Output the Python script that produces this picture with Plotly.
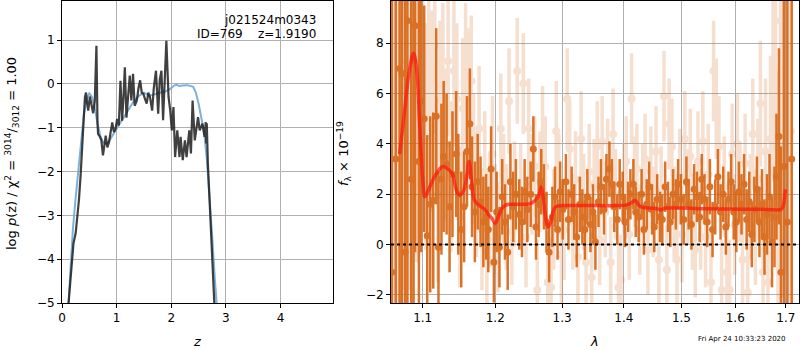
import math
import plotly.graph_objects as go

# ---------------- left panel: p(z) ----------------
pz_z = [0.12, 0.15, 0.18, 0.19, 0.21, 0.25, 0.29, 0.31, 0.34, 0.36,
        0.39, 0.42, 0.44, 0.46, 0.48, 0.51, 0.54, 0.57, 0.60, 0.63,
        0.65, 0.66, 0.69, 0.72, 0.75, 0.78, 0.80, 0.83, 0.86, 0.89,
        0.92, 0.95, 0.98, 1.01, 1.04, 1.07, 1.10, 1.125, 1.15, 1.18,
        1.21, 1.24, 1.27, 1.30, 1.33, 1.37, 1.40, 1.43, 1.46, 1.49,
        1.52, 1.55, 1.58, 1.61, 1.65, 1.68, 1.72, 1.76, 1.79, 1.82,
        1.85, 1.88, 1.91, 1.95, 1.98, 2.01, 2.04, 2.07, 2.11, 2.15,
        2.17, 2.21, 2.25, 2.28, 2.33, 2.36, 2.39, 2.43, 2.46, 2.49,
        2.52, 2.57, 2.61, 2.63, 2.64, 2.65, 2.67, 2.74, 2.75, 2.80, 2.81]
pz_logp = [-5.0, -4.55, -4.17, -3.86, -3.64, -3.41, -2.95, -2.65, -2.1, -1.74,
           -0.98, -0.3, -0.2, -0.45, -0.61, -0.29, -0.5, -0.67, -0.4, 0.87,
           -0.9, -1.14, -1.2, -1.29, -1.63, -1.3, -1.18, -1.45, -1.33, -1.1,
           -0.88, -1.1, -1.03, -0.8, -0.95, 0.07, -0.84, -0.3, 0.38, -0.77,
           -0.2, 0.19, -0.38, 0.23, -0.5, -0.38, -0.1, 0.08, -0.2, -0.23,
           -0.35, -0.45, -0.2, -0.3, -0.61, -0.1, 0.3, -0.68, 0.1, 0.3,
           -0.83, 0.0, 0.98, -0.3, -0.6, -1.06, -0.53, -1.67, -1.06, -1.67,
           -1.21, -1.74, -1.29, -1.67, -1.06, -1.59, -0.38, -1.29, -1.06, -0.76,
           -1.06, -0.91, -1.21, -0.87, -1.36, -0.9, -1.82, -3.49, -3.94, -5.0, -5.6]

chi_z = [0.12, 0.15, 0.2, 0.25, 0.3, 0.35, 0.4, 0.45, 0.5, 0.55,
         0.6, 0.65, 0.7, 0.75, 0.8, 0.85, 0.9, 0.95, 1.0, 1.1,
         1.2, 1.3, 1.4, 1.5, 1.6, 1.7, 1.8, 1.9, 2.0, 2.05,
         2.1, 2.15, 2.2, 2.3, 2.4, 2.45, 2.5, 2.55, 2.6, 2.65,
         2.7, 2.75, 2.8, 2.83]
chi_val = [-5.0, -4.3, -3.3, -2.6, -1.95, -1.3, -0.7, -0.35, -0.22, -0.3,
           -0.55, -0.9, -1.18, -1.33, -1.38, -1.33, -1.23, -1.13, -1.03, -0.83,
           -0.6, -0.42, -0.28, -0.2, -0.27, -0.24, -0.2, -0.17, -0.1, -0.04,
           -0.02, -0.05, -0.04, -0.03, -0.07, -0.2, -0.45, -0.75, -1.1, -1.7,
           -2.5, -3.5, -4.5, -5.0]

# ---------------- right panel: spectrum ----------------
dark_wave = [1.060, 1.065, 1.070, 1.073, 1.077, 1.080, 1.085, 1.088, 1.090, 1.095,
             1.098, 1.102, 1.106, 1.110, 1.114, 1.118, 1.121, 1.125, 1.128, 1.132,
             1.136, 1.140, 1.145, 1.148, 1.152, 1.156, 1.160, 1.164, 1.167, 1.171,
             1.175, 1.179, 1.183, 1.187, 1.190, 1.194, 1.198, 1.202, 1.206, 1.210,
             1.214, 1.218, 1.222, 1.226, 1.230, 1.235, 1.239, 1.243, 1.247, 1.252,
             1.256, 1.260, 1.264, 1.268, 1.272, 1.276, 1.280, 1.285, 1.289, 1.293,
             1.297, 1.301, 1.306, 1.310, 1.315, 1.319, 1.323, 1.328, 1.332, 1.336,
             1.340, 1.345, 1.349, 1.353, 1.358, 1.362, 1.367, 1.371, 1.376, 1.380,
             1.384, 1.389, 1.393, 1.398, 1.402, 1.407, 1.411, 1.416, 1.420, 1.425,
             1.430, 1.434, 1.439, 1.443, 1.448, 1.452, 1.457, 1.462, 1.466, 1.471,
             1.476, 1.480, 1.485, 1.490, 1.494, 1.499, 1.504, 1.509, 1.513, 1.518,
             1.523, 1.528, 1.533, 1.537, 1.542, 1.547, 1.552, 1.557, 1.562, 1.567,
             1.572, 1.577, 1.582, 1.587, 1.592, 1.597, 1.602, 1.607, 1.612, 1.617,
             1.622, 1.627, 1.632, 1.637, 1.642, 1.647, 1.652, 1.657, 1.662, 1.667,
             1.672, 1.677, 1.681, 1.686, 1.690, 1.696, 1.703, 1.712]
dark_flux = [-1.1, 3.4, 7.0, 6.8, -0.3, 8.9, 2.6, 7.3, 8.7, 3.3,
             5.7, 5.0, 0.35, 1.6, 1.75, 5.1, -0.1, 2.6, 3.5, 3.2,
             1.5, 2.8, 3.6, 2.0, 0.6, 1.5, 3.7, 4.8, 2.3, 1.3,
             2.5, 1.7, 0.9, 1.1, 0.6, 3.0, -0.7, 1.3, -0.1, 1.9,
             0.9, -0.3, 2.5, 1.5, 2.0, 1.2, 0.9, 2.1, 1.4, 2.0,
             3.8, 0.7, 1.6, 2.5, 1.9, 0.9, -0.3, 1.1, 1.9, 0.6,
             2.1, 1.4, 2.5, 1.0, 2.0, 1.3, 0.3, 1.6, 1.1, 0.6,
             1.9, 0.8, 1.3, 0.1, 1.7, 2.3, 1.4, 2.6, 3.0, 2.4,
             1.5, 1.0, 2.4, 1.9, 0.9, 1.5, 2.0, 2.4, 1.3, 1.1,
             2.0, 0.6, 1.6, 2.3, 1.4, 0.7, 1.8, 1.1, 1.0, 2.3,
             1.5, 0.9, 2.0, 1.6, 2.4, 1.8, 1.0, 2.5, 1.6, 0.8,
             2.2, 1.9, 1.1, 2.6, 1.8, 0.9, 2.3, 0.6, 1.5, 2.7,
             1.3, 2.0, 0.7, 1.8, 2.5, 1.3, 0.9, 2.1, 1.6, 2.4,
             1.0, 1.7, 0.4, 1.4, 2.2, 0.9, 1.6, 0.3, 1.2, 1.9,
             0.1, 1.1, 2.7, 4.3, -1.1, 3.1, 0.9, 3.4]
dark_err = [12, 12, 12, 12, 12, 12, 10, 10, 9, 8,
            6, 4.5, 4, 3.5, 3.5, 3.5, 3, 3, 3, 2.8,
            2.6, 2.5, 2.5, 2.4, 2.3, 2.2, 2.2, 2.2, 2.0, 2.0,
            1.9, 1.8, 1.8, 1.7, 1.7, 1.7, 1.6, 1.6, 1.6, 1.5,
            1.5, 1.5, 1.5, 1.4, 1.4, 1.4, 1.4, 1.3, 1.3, 1.3,
            1.3, 1.3, 1.3, 1.3, 1.3, 1.2, 1.2, 1.2, 1.2, 1.2,
            1.2, 1.2, 1.1, 1.2, 1.1, 1.1, 1.2, 1.1, 1.1, 1.2,
            1.1, 1.1, 1.1, 1.1, 1.0, 1.1, 1.0, 1.0, 1.1, 1.0,
            1.0, 1.0, 1.0, 1.0, 1.0, 1.0, 1.0, 1.0, 1.0, 1.0,
            1.0, 1.0, 1.0, 1.0, 1.0, 1.0, 1.0, 1.0, 1.0, 1.0,
            1.0, 1.0, 1.0, 1.0, 1.0, 1.0, 1.0, 1.0, 1.0, 1.0,
            1.0, 1.0, 1.0, 1.0, 1.0, 1.0, 1.1, 1.1, 1.1, 1.1,
            1.1, 1.1, 1.1, 1.1, 1.1, 1.1, 1.2, 1.2, 1.2, 1.2,
            1.2, 1.2, 1.3, 1.3, 1.3, 1.4, 1.4, 1.5, 1.6, 1.7,
            1.8, 2.0, 2.5, 3.5, 5, 10, 10, 10]

light_wave = [1.062, 1.067, 1.071, 1.075, 1.079, 1.083, 1.087, 1.092, 1.096, 1.100,
              1.104, 1.108, 1.112, 1.116, 1.120, 1.123, 1.127, 1.130, 1.134, 1.138,
              1.142, 1.146, 1.150, 1.154, 1.158, 1.162, 1.166, 1.169, 1.173, 1.177,
              1.181, 1.185, 1.188, 1.192, 1.196, 1.200, 1.204, 1.208, 1.212, 1.216,
              1.220, 1.224, 1.228, 1.232, 1.237, 1.241, 1.245, 1.249, 1.254, 1.258,
              1.262, 1.266, 1.270, 1.274, 1.278, 1.283, 1.287, 1.291, 1.295, 1.299,
              1.303, 1.308, 1.312, 1.317, 1.321, 1.325, 1.330, 1.334, 1.338, 1.343,
              1.347, 1.351, 1.356, 1.360, 1.364, 1.369, 1.373, 1.378, 1.382, 1.386,
              1.391, 1.395, 1.400, 1.404, 1.409, 1.413, 1.418, 1.422, 1.427, 1.432,
              1.436, 1.441, 1.446, 1.450, 1.455, 1.460, 1.464, 1.469, 1.474, 1.478,
              1.483, 1.487, 1.492, 1.497, 1.501, 1.506, 1.511, 1.516, 1.520, 1.525,
              1.530, 1.535, 1.539, 1.544, 1.549, 1.554, 1.559, 1.564, 1.569, 1.574,
              1.579, 1.584, 1.589, 1.594, 1.599, 1.604, 1.609, 1.614, 1.619, 1.624,
              1.629, 1.634, 1.639, 1.644, 1.649, 1.654, 1.659, 1.664, 1.669, 1.674,
              1.679, 1.684, 1.689, 1.694, 1.699, 1.705, 1.710]
light_flux = [9.6, 5.5, 8.5, 9.2, 1.6, 7.2, 4.0, 6.3, 9.5, 7.2,
              4.3, 8.5, 5.3, 7.9, 2.0, 5.7, 6.4, 4.0, 7.3, 2.7,
              6.9, 5.8, 1.1, 5.4, 6.8, 5.9, 6.5, 3.4, 2.0, 4.6,
              0.6, 2.9, -0.3, 1.4, 3.6, 1.0, 0.3, 4.6, 2.2, 1.1,
              5.7, 0.5, 2.0, 6.9, 1.9, 6.4, 0.3, 4.6, 2.4, 3.1,
              -1.8, 2.5, 4.3, 3.1, -1.5, -1.7, 1.0, 4.5, 2.4, -0.4,
              0.6, 5.8, 3.8, 0.9, 2.6, -0.5, 4.2, 1.7, -0.7, 2.9,
              -1.3, 2.4, 3.9, 0.2, 4.1, 1.3, 3.2, -0.7, 4.4, 2.0,
              -1.7, -1.4, 2.2, 3.3, 0.4, 5.8, 2.5, 3.0, 0.6, 2.2,
              3.4, -0.2, 2.9, 1.3, 3.7, -0.6, 2.1, 5.9, -1.0, 4.8,
              3.9, 1.2, -0.6, 2.7, 0.4, 4.2, 1.9, 3.5, 0.9, -0.2,
              3.3, 1.0, 4.1, 0.3, 2.8, -1.5, 6.9, 5.4, 3.9, -1.8,
              2.3, -1.1, -1.8, 3.6, 0.8, 4.0, 2.1, -0.6, 3.2, -1.9,
              1.5, 4.4, 0.7, 2.6, 5.6, -1.1, 3.7, -1.5, 4.2, 6.1,
              6.0, 1.9, 8.9, 5.9, 8.8, 2.0, 4.5]
light_err = [12, 12, 12, 11, 10, 9, 8, 7, 6, 5,
             4.5, 4, 4, 3.5, 3.5, 3.2, 3.2, 3, 3, 3,
             3, 3, 2.8, 2.8, 2.8, 2.7, 2.6, 2.6, 2.5, 2.5,
             2.4, 2.4, 2.3, 2.3, 2.3, 2.2, 2.2, 2.2, 2.2, 2.1,
             2.1, 2.1, 2.1, 2.1, 2.1, 2.0, 2.0, 2.0, 2.0, 2.0,
             2.0, 2.0, 2.0, 2.0, 2.0, 2.0, 2.0, 2.0, 2.0, 2.0,
             2.0, 2.0, 1.9, 1.9, 1.9, 1.9, 1.9, 1.9, 1.9, 1.9,
             1.8, 1.8, 1.8, 1.8, 1.8, 1.8, 1.8, 1.8, 1.8, 1.8,
             1.8, 1.8, 1.8, 1.8, 1.8, 1.8, 1.8, 1.8, 1.8, 1.8,
             1.8, 1.8, 1.8, 1.8, 1.8, 1.8, 1.8, 1.8, 1.8, 1.8,
             1.9, 1.9, 1.9, 1.9, 1.9, 1.9, 1.9, 1.9, 1.9, 1.9,
             2.0, 2.0, 2.0, 2.0, 2.0, 2.0, 2.0, 2.0, 2.0, 2.0,
             2.0, 2.0, 2.0, 2.0, 2.0, 2.0, 2.0, 2.0, 2.0, 2.1,
             2.1, 2.2, 2.3, 2.4, 2.5, 2.7, 2.9, 3.1, 3.3, 3.6,
             4, 5, 6, 8, 10, 12, 12]

model_wave = [1.070, 1.076, 1.082, 1.088, 1.092, 1.096, 1.100, 1.103, 1.108, 1.114,
              1.120, 1.127, 1.134, 1.140, 1.144, 1.148, 1.152, 1.156, 1.160, 1.163,
              1.166, 1.170, 1.175, 1.180, 1.185, 1.190, 1.195, 1.200, 1.205, 1.210,
              1.214, 1.220, 1.235, 1.250, 1.256, 1.262, 1.266, 1.268, 1.271, 1.274,
              1.278, 1.282, 1.286, 1.290, 1.300, 1.330, 1.360, 1.390, 1.405, 1.412,
              1.418, 1.421, 1.426, 1.432, 1.445, 1.458, 1.465, 1.470, 1.480, 1.500,
              1.540, 1.580, 1.620, 1.660, 1.690, 1.694, 1.697, 1.699]
model_flux = [3.6, 5.2, 6.8, 7.6, 7.0, 4.8, 2.6, 1.9, 2.2, 2.6,
              2.9, 3.1, 3.0, 2.8, 2.3, 2.0, 2.0, 2.2, 2.8, 3.3,
              2.6, 1.8, 1.6, 1.5, 1.4, 1.2, 1.05, 0.85, 1.15, 1.45,
              1.55, 1.6, 1.6, 1.62, 1.7, 1.85, 2.1, 2.3, 1.9, 1.2,
              0.7, 0.85, 1.3, 1.5, 1.55, 1.55, 1.55, 1.55, 1.58, 1.65,
              1.75, 1.72, 1.55, 1.48, 1.45, 1.42, 1.38, 1.45, 1.45, 1.45,
              1.43, 1.42, 1.41, 1.4, 1.4, 1.5, 1.8, 2.2]

x_ticks_right = [1.1, 1.2, 1.3, 1.4, 1.5, 1.6, 1.7]
x_labels_right = ["1.1", "1.2", "1.3", "1.4", "1.5", "1.6", "1.7"]
y_ticks_right = [-2, 0, 2, 4, 6, 8]
x_ticks_left = [0, 1, 2, 3, 4]
y_ticks_left = [-5, -4, -3, -2, -1, 0, 1]

DARK = "rgb(214,100,18)"
GRID = "#b0b0b0"
FONT = "DejaVu Sans"

fig = go.Figure()

# left panel traces
fig.add_trace(go.Scatter(x=chi_z, y=chi_val, mode="lines",
                         line=dict(color="rgb(126,176,216)", width=2),
                         xaxis="x", yaxis="y", hoverinfo="skip"))
fig.add_trace(go.Scatter(x=pz_z, y=pz_logp, mode="lines",
                         line=dict(color="rgba(30,30,30,0.85)", width=2.2),
                         xaxis="x", yaxis="y", hoverinfo="skip"))

# right panel traces
fig.add_trace(go.Scatter(x=light_wave, y=light_flux, mode="markers",
                         marker=dict(color=DARK, size=8),
                         error_y=dict(type="data", array=light_err, color=DARK,
                                      thickness=3.5, width=0),
                         opacity=0.2, xaxis="x2", yaxis="y2", hoverinfo="skip"))
fig.add_trace(go.Scatter(x=dark_wave, y=dark_flux, mode="markers",
                         marker=dict(color=DARK, size=7),
                         error_y=dict(type="data", array=dark_err, color=DARK,
                                      thickness=2.5, width=0),
                         opacity=0.9, xaxis="x2", yaxis="y2", hoverinfo="skip"))
fig.add_trace(go.Scatter(x=model_wave, y=model_flux, mode="lines",
                         line=dict(color="rgba(255,20,10,0.7)", width=3.5, shape="spline"),
                         xaxis="x2", yaxis="y2", hoverinfo="skip"))

ytop = 1 - 1 / 350
ybot = 1 - 303 / 350
axis_common = dict(showgrid=True, gridcolor=GRID, gridwidth=1, showline=True,
                   linecolor="black", linewidth=1, mirror=True, ticks="outside",
                   ticklen=4, tickcolor="black", zeroline=False, automargin=False,
                   tickfont=dict(family=FONT, size=12, color="black"))

fig.update_layout(
    width=800, height=350, margin=dict(l=0, r=0, t=0, b=0, autoexpand=False),
    paper_bgcolor="white", plot_bgcolor="white", showlegend=False,
    font=dict(family=FONT, size=12, color="black"),
    xaxis=dict(domain=[62 / 800, 333 / 800], range=[0, 4.96], tickvals=x_ticks_left,
               anchor="y", **axis_common),
    yaxis=dict(domain=[ybot, ytop], range=[-5, 1.89], tickvals=y_ticks_left,
               tickformat="d", anchor="x", **axis_common),
    xaxis2=dict(domain=[391 / 800, 799 / 800], type="log",
                range=[math.log10(1.059), math.log10(1.727)],
                tickvals=x_ticks_right, ticktext=x_labels_right, anchor="y2", **axis_common),
    yaxis2=dict(domain=[ybot, ytop], range=[-2.32, 9.68], tickvals=y_ticks_right,
                anchor="x2", **axis_common),
)

fig.add_shape(type="line", xref="x2 domain", x0=0, x1=1, yref="y2", y0=0, y1=0,
              line=dict(color="black", width=2, dash="dot"))

ann = []
ann.append(dict(text="j021524m0343", x=318 / 800, y=1 - 20 / 350, xref="paper", yref="paper",
                xanchor="right", yanchor="middle", showarrow=False, font=dict(size=12)))
ann.append(dict(text="ID=769&nbsp;&nbsp;&nbsp;&nbsp;z=1.9190", x=318 / 800, y=1 - 34 / 350,
                xref="paper", yref="paper", xanchor="right", yanchor="middle",
                showarrow=False, font=dict(size=12)))
ann.append(dict(text="log <i>p</i>(z) / χ<sup>2</sup> = <sup>3014</sup>/<sub>3012</sub> = 1.00",
                x=12 / 800, y=1 - 154 / 350, xref="paper", yref="paper", textangle=-90,
                xanchor="center", yanchor="middle", showarrow=False, font=dict(size=13)))
ann.append(dict(text="<i>f</i><sub>λ</sub> × 10<sup>−19</sup>",
                x=344 / 800, y=1 - 154 / 350, xref="paper", yref="paper", textangle=-90,
                xanchor="center", yanchor="middle", showarrow=False, font=dict(size=13)))
ann.append(dict(text="<i>z</i>", x=197 / 800, y=1 - 341 / 350, xref="paper", yref="paper",
                xanchor="center", yanchor="middle", showarrow=False, font=dict(size=13)))
ann.append(dict(text="<i>λ</i>", x=594 / 800, y=1 - 341 / 350, xref="paper", yref="paper",
                xanchor="center", yanchor="middle", showarrow=False, font=dict(size=13)))
ann.append(dict(text="Fri Apr 24 10:33:23 2020", x=788 / 800, y=1 - 339 / 350,
                xref="paper", yref="paper", xanchor="right", yanchor="middle",
                showarrow=False, font=dict(size=7)))
fig.update_layout(annotations=ann)

fig.write_html("out.html", config={"displayModeBar": False},
               post_script="document.body.style.margin='0';")
